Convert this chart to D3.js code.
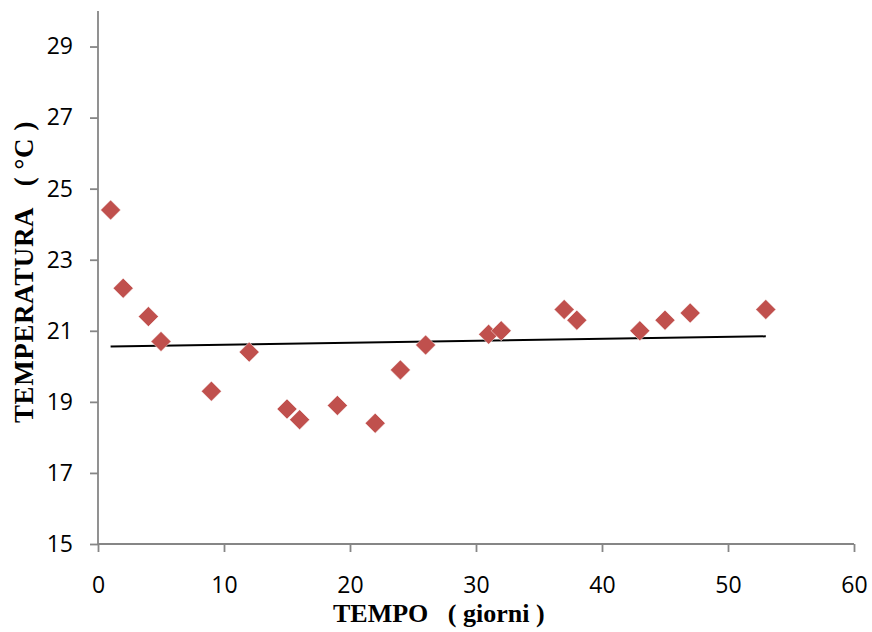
<!DOCTYPE html>
<html>
<head>
<meta charset="utf-8">
<script src="https://cdn.jsdelivr.net/npm/d3@7"></script>
<style>
  html, body { margin: 0; padding: 0; background: #fff; }
  svg { display: block; }
</style>
</head>
<body>
<script>
// ---- data ----
const days = [1, 2, 4, 5, 9, 12, 15, 16, 19, 22, 24, 26, 31, 32, 37, 38, 43, 45, 47, 53];
const temps = [24.4, 22.2, 21.4, 20.7, 19.3, 20.4, 18.8, 18.5, 18.9, 18.4, 19.9, 20.6, 20.9, 21.0, 21.6, 21.3, 21.0, 21.3, 21.5, 21.6];
const xTicks = [0, 10, 20, 30, 40, 50, 60];
const yTicks = [15, 17, 19, 21, 23, 25, 27, 29];
const xTitle = "TEMPO   ( giorni )";
const yTitle = "TEMPERATURA   ( °C )";

const W = 872, H = 632;
const svg = d3.select("body").append("svg").attr("width", W).attr("height", H);

const x = d3.scaleLinear().domain([0, 60]).range([98, 854]);
const y = d3.scaleLinear().domain([15, 30]).range([544, 11]);

const axisColor = "#868686";
const tickFont = "'Open Sans', sans-serif";

// y axis
const gy = svg.append("g").attr("transform", `translate(${x(0)},0)`)
  .call(d3.axisLeft(y).tickValues(yTicks).tickSize(8).tickPadding(17).tickFormat(d3.format("d")));
// x axis
const gx = svg.append("g").attr("transform", `translate(0,${y(15)})`)
  .call(d3.axisBottom(x).tickValues(xTicks).tickSize(8).tickPadding(25).tickFormat(d3.format("d")));

[gx, gy].forEach(g => {
  g.select(".domain").attr("stroke", axisColor).attr("stroke-width", 1.8);
  g.selectAll(".tick line").attr("stroke", axisColor).attr("stroke-width", 1.8);
  g.selectAll(".tick text").attr("fill", "#000").style("font-family", tickFont).style("font-size", "23px");
});
gy.select(".domain").attr("d", `M0,${y(30)}V${y(15)}`);
gx.select(".domain").attr("d", `M${x(0)},0H${x(60)}`);

// trend line (least squares fit of the data)
const n = days.length;
const mx = d3.mean(days), my = d3.mean(temps);
let sxy = 0, sxx = 0;
for (let i = 0; i < n; i++) { sxy += (days[i] - mx) * (temps[i] - my); sxx += (days[i] - mx) ** 2; }
const slope = sxy / sxx, icpt = my - slope * mx;
const xMin = d3.min(days), xMax = d3.max(days);
svg.append("line")
  .attr("x1", x(xMin)).attr("y1", y(icpt + slope * xMin))
  .attr("x2", x(xMax)).attr("y2", y(icpt + slope * xMax))
  .attr("stroke", "#000").attr("stroke-width", 2);

// markers (diamonds)
const r = 10;
svg.append("g").selectAll("path").data(days.map((d, i) => [d, temps[i]])).join("path")
  .attr("d", d => `M${x(d[0])},${y(d[1]) - r}L${x(d[0]) + r},${y(d[1])}L${x(d[0])},${y(d[1]) + r}L${x(d[0]) - r},${y(d[1])}Z`)
  .attr("fill", "#C0504D")
  .attr("stroke", "#fff").attr("stroke-width", 0.8).attr("stroke-opacity", 0.6);

// titles
svg.append("text")
  .attr("x", 333).attr("y", 622)
  .attr("xml:space", "preserve").style("white-space", "pre")
  .style("font-family", "'Liberation Serif', 'Times New Roman', serif")
  .style("font-weight", "bold").style("font-size", "26px")
  .text(xTitle);

svg.append("text")
  .attr("transform", "translate(33,423) rotate(-90)")
  .attr("xml:space", "preserve").style("white-space", "pre")
  .style("font-family", "'Liberation Serif', 'Times New Roman', serif")
  .style("font-weight", "bold").style("font-size", "27px").style("letter-spacing", "0.6px")
  .text(yTitle);
</script>
</body>
</html>
